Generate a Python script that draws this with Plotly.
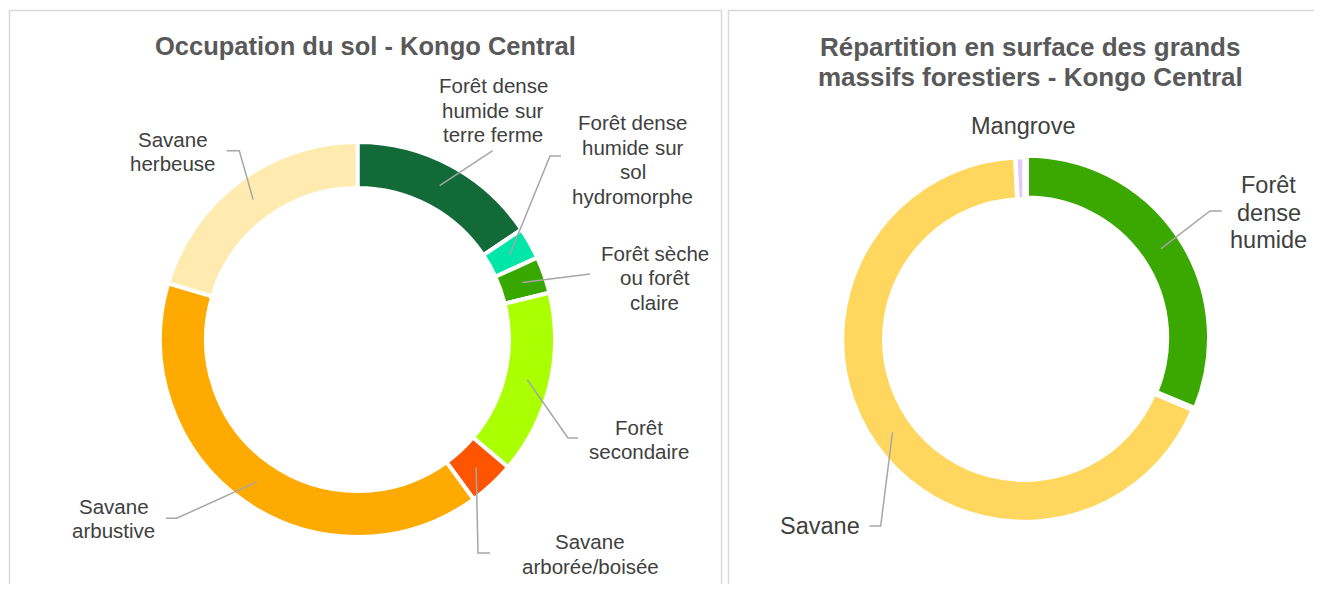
import math
import plotly.graph_objects as go

# browser window and page body margin (default 8px)
WIN_W, WIN_H = 1322, 592
BODY_MARGIN = 8
W, H = WIN_W - 2 * BODY_MARGIN, WIN_H - 2 * BODY_MARGIN

# ---------------- DATA ----------------
occ_title = "Occupation du sol - Kongo Central"
occ_labels = [
    "Forêt dense humide sur terre ferme",
    "Forêt dense humide sur sol hydromorphe",
    "Forêt sèche ou forêt claire",
    "Forêt secondaire",
    "Savane arborée/boisée",
    "Savane arbustive",
    "Savane herbeuse",
]
occ_values = [15.6, 2.6, 3.0, 15.0, 3.8, 39.6, 20.4]
occ_label_lines = [
    ["Forêt dense", "humide sur", "terre ferme"],
    ["Forêt dense", "humide sur", "sol", "hydromorphe"],
    ["Forêt sèche", "ou forêt", "claire"],
    ["Forêt", "secondaire"],
    ["Savane", "arborée/boisée"],
    ["Savane", "arbustive"],
    ["Savane", "herbeuse"],
]

mas_title_lines = ["Répartition en surface des grands", "massifs forestiers - Kongo Central"]
mas_labels = ["Forêt dense humide", "Savane", "Mangrove"]
mas_values = [31.3, 67.9, 0.8]
mas_label_lines = [["Forêt", "dense", "humide"], ["Savane"], ["Mangrove"]]

# ---------------- STYLE / LAYOUT ----------------
occ_colors = ["#116A37", "#00E6A9", "#38A800", "#AAFF00", "#FF5500", "#FFAA00", "#FFEBAF"]
mas_colors = ["#3AA800", "#FFD75F", "#E1C8FF"]

FONT = "Arial, 'Liberation Sans', sans-serif"
LABEL_COLOR = "#404040"
TITLE_COLOR = "#595959"
LEADER_COLOR = "#A6A6A6"

# pie geometry (window pixels)
occ_geo = dict(cx=357.5, cy=339.5, r=197.5, hole=0.767, line=4, pull=[0] * 7)
mas_geo = dict(cx=1024.5, cy=339.5, r=182.5, hole=0.768, line=4.5, pull=[0.015, 0, 0])

# label block centres (window px)
occ_label_pos = [(493, 110), (632.5, 159.6), (654.5, 277.8), (638.5, 439.5),
                 (590, 554.2), (113.8, 518.7), (172.5, 151.3)]
occ_leaders = [
    [(492.7, 150.7)],
    [(550, 156), (561, 156)],
    [(590, 274)],
    [(568, 438), (578, 438)],
    [(478, 553), (490, 553)],
    [(176.7, 518.3), (166, 518.3)],
    [(239.3, 150.7), (226.7, 150.7)],
]
mas_label_pos = [(1268.8, 212.6), (820, 526), (1023.3, 126)]
mas_leaders = [
    [(1210, 211), (1221.7, 211)],
    [(880.7, 526), (869.3, 526)],
    None,
]


def px(x):
    return (x - BODY_MARGIN) / W


def py(y):
    return 1 - (y - BODY_MARGIN) / H


def domain(g):
    half = g["r"] * (1 + max(g["pull"]))
    return dict(x=[px(g["cx"] - half), px(g["cx"] + half)],
                y=[py(g["cy"] + half), py(g["cy"] - half)])


def anchor_points(values, g):
    """mid-ring point of each slice (clockwise from 12 o'clock)."""
    tot = sum(values)
    pts = []
    cum = 0.0
    rmid = g["r"] * (1 + g["hole"]) / 2
    for i, v in enumerate(values):
        mid = (cum + v / 2) / tot * 2 * math.pi
        cum += v
        off = g["pull"][i] * g["r"]
        x = g["cx"] + (rmid + off) * math.sin(mid)
        y = g["cy"] - (rmid + off) * math.cos(mid)
        pts.append((x, y))
    return pts


fig = go.Figure()

for labels, values, colors, g in [
    (occ_labels, occ_values, occ_colors, occ_geo),
    (mas_labels, mas_values, mas_colors, mas_geo),
]:
    fig.add_trace(go.Pie(
        labels=labels, values=values, sort=False, direction="clockwise",
        rotation=0, hole=g["hole"], pull=g["pull"],
        marker=dict(colors=colors, line=dict(color="white", width=g["line"])),
        textinfo="none", domain=domain(g), showlegend=False,
        hovertemplate="%{label}: %{percent}<extra></extra>",
    ))

shapes = []
annotations = []

# panel borders
shapes.append(dict(type="rect", xref="paper", yref="paper",
                   x0=px(9.5), x1=px(721.5), y0=py(640), y1=py(10.5),
                   line=dict(color="#D9D9D9", width=1.5), fillcolor="rgba(0,0,0,0)"))
shapes.append(dict(type="rect", xref="paper", yref="paper",
                   x0=px(728.5), x1=px(1400), y0=py(640), y1=py(10.5),
                   line=dict(color="#D9D9D9", width=1.5), fillcolor="rgba(0,0,0,0)"))


def add_lines(lines, cx, cy, spacing, size, color, bold=False):
    n = len(lines)
    for i, t in enumerate(lines):
        y = cy + (i - (n - 1) / 2) * spacing
        annotations.append(dict(
            text=f"<b>{t}</b>" if bold else t, x=px(cx), y=py(y),
            xref="paper", yref="paper", showarrow=False,
            xanchor="center", yanchor="middle",
            font=dict(family=FONT, size=size, color=color)))


# titles
add_lines([occ_title], 365.5, 46, 30, 25.5, TITLE_COLOR, bold=True)
add_lines(mas_title_lines, 1030, 62, 30, 26, TITLE_COLOR, bold=True)

# data labels + leader lines
for values, g, lines_list, pos, leaders, size, spacing in [
    (occ_values, occ_geo, occ_label_lines, occ_label_pos, occ_leaders, 20.5, 24.5),
    (mas_values, mas_geo, mas_label_lines, mas_label_pos, mas_leaders, 23.5, 27.5),
]:
    anchors = anchor_points(values, g)
    for lines, (cx, cy), lead, a in zip(lines_list, pos, leaders, anchors):
        add_lines(lines, cx, cy, spacing, size, LABEL_COLOR)
        if lead:
            pts = [a] + lead
            path = "M " + " L ".join(f"{px(x):.5f},{py(y):.5f}" for x, y in pts)
            shapes.append(dict(type="path", xref="paper", yref="paper", path=path,
                               line=dict(color=LEADER_COLOR, width=1.5)))

fig.update_layout(
    width=W, height=H, margin=dict(l=0, r=0, t=0, b=0),
    paper_bgcolor="white", plot_bgcolor="white",
    shapes=shapes, annotations=annotations,
    font=dict(family=FONT),
)

fig.write_html("out.html")
